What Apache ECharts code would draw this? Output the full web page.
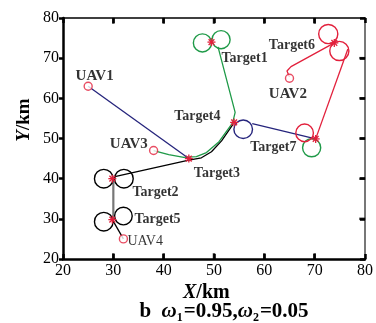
<!DOCTYPE html>
<html>
<head>
<meta charset="utf-8">
<script src="https://cdn.jsdelivr.net/npm/echarts@6/dist/echarts.min.js"></script>
<style>html,body{margin:0;padding:0;background:#fff;}#c{width:376px;height:323px;}</style>
</head>
<body>
<div id="c"></div>
<script>
// ---- data (km) ----
const xTicks = [20, 30, 40, 50, 60, 70, 80];
const yTicks = [20, 30, 40, 50, 60, 70, 80];

const uavStarts = [[25, 63], [65, 65], [38, 47], [32, 25]];
const targets = [[49.5, 74], [29.8, 40], [45, 45], [54, 54], [29.8, 29.8], [73.9, 73.8], [70.2, 49.9]];

// navy path (UAV1)
const navyPath1 = [[25, 63], [45, 45]];
const navyPath3 = [[57.6, 53.7], [70.2, 49.9]];
// green path (UAV3)
const greenPath = [[38, 47], [41, 46], [44, 45.3], [46.5, 45.5], [48.5, 46.5], [51, 49.2], [53.7, 53.9], [54.2, 56.5], [50.8, 72.8]];
// red path (UAV2)
const redPath1 = [[65, 65.3], [64.5, 66.8], [65.3, 67.9], [73.9, 73.8]];
const redPath2 = [[76.6, 72.3], [70.2, 49.9]];
// black path (UAV4)
const blackPath1 = [[32, 25], [29.8, 29.8]];
const greyPath = [[30, 30], [30, 40]];
const blackPath2 = [[30.3, 40.5], [45, 44.6], [47.5, 45.2], [49.5, 46.7], [51.5, 49.4], [53.8, 53.6]];

// turning loops [cx, cy, r]
const navyLoops = [[55.8, 52.3, 1.85]];
const greenLoops = [[47.7, 73.8, 1.8], [51.4, 74.6, 1.8], [69.4, 47.7, 1.8]];
const redLoops = [[72.7, 76, 1.9], [74.9, 71.8, 1.9], [68, 51.4, 1.75]];
const blackLoops = [[28.1, 40, 1.85], [32.1, 40, 1.85], [28.1, 29.3, 1.85], [32, 30.7, 1.75]];

// labels [x, y(left edge, middle), text]
const uavLabels = [[22.4, 65.6, 'UAV1'], [29.2, 48.7, 'UAV3'], [60.8, 61.1, 'UAV2']];
const uav4Label = [[32.7, 24.5, 'UAV4']];
const targetLabels = [[51.4, 70, 'Target1'], [60.8, 73.3, 'Target6'], [42, 55.4, 'Target4'], [57.1, 47.7, 'Target7'], [45.9, 41.4, 'Target3'], [33.7, 36.7, 'Target2'], [34.1, 29.8, 'Target5']];

// ---- chart ----
const NAVY = '#25247c', GREEN = '#1f9a48', RED = '#e2203c', BLACK = '#000', GREY = '#777';
const SERIF = '"Liberation Serif","Times New Roman",serif';

function lineSeries(data, color, width) {
  return { type: 'line', data: data, xAxisIndex: 0, yAxisIndex: 0, showSymbol: false, symbol: 'none', smooth: false,
    lineStyle: { color: color, width: width || 1.3 }, silent: true, z: 2 };
}
function loopSeries(data, color) {
  return { type: 'custom', data: data, xAxisIndex: 0, yAxisIndex: 0, silent: true, z: 3,
    renderItem: function (params, api) {
      const c = api.coord([api.value(0), api.value(1)]);
      const s = api.size([api.value(2), 0]);
      return { type: 'circle', shape: { cx: c[0], cy: c[1], r: s[0] }, style: { fill: 'none', stroke: color, lineWidth: 1.4 } };
    } };
}
function labelSeries(data, size, weight) {
  return { type: 'scatter', data: data, symbolSize: 1, itemStyle: { color: 'transparent' }, silent: true, z: 6,
    label: { show: true, position: 'right', distance: 0, formatter: p => p.value[2], color: '#000',
      fontFamily: SERIF, fontSize: size, fontWeight: weight } };
}

const chart = echarts.init(document.getElementById('c'), null, { renderer: 'canvas' });
function ax(pos, lineColor, lineWidth, labels, inside, len) {
  return { type: 'value', min: 20, max: 80, interval: 10, position: pos,
    splitLine: { show: false },
    axisLine: { show: true, onZero: false, lineStyle: { color: lineColor, width: lineWidth } },
    axisTick: { show: true, inside: inside, length: len, lineStyle: { color: '#000', width: 2.5 } },
    axisLabel: labels ? { show: true, margin: 4, color: '#000', fontFamily: SERIF, fontSize: 16,
      formatter: v => xTicks.includes(v) ? String(v) : '' } : { show: false } };
}
// tick marks drawn as a markLine-free custom overlay through the axes' scales
const tickX = xTicks.slice(1, -1);
const tickY = yTicks.slice(1, -1);
chart.setOption({
  animation: false,
  backgroundColor: '#fff',
  grid: { left: 63, top: 18, width: 306, height: 241 },
  xAxis: [ax('bottom', '#000', 2.5, true, true, 5), ax('top', '#000', 1.5, false, true, 5)],
  yAxis: [ax('left', '#000', 2.5, true, false, 4), ax('right', GREY, 2, false, true, 5)],
  series: [
    lineSeries(blackPath2, BLACK),
    lineSeries(greenPath, GREEN),
    lineSeries(navyPath1, NAVY),
    lineSeries(navyPath3, NAVY),
    lineSeries(redPath1, RED),
    lineSeries(redPath2, RED),
    lineSeries(blackPath1, BLACK),
    lineSeries(greyPath, GREY, 2.2),
    loopSeries(navyLoops, NAVY),
    loopSeries(greenLoops, GREEN),
    loopSeries(redLoops, RED),
    loopSeries(blackLoops, BLACK),
    { type: 'scatter', data: tickX.map(v => [v, 79.3]), symbol: 'rect', symbolSize: [2.5, 6], silent: true, z: 8,
      itemStyle: { color: '#000' } },
    { type: 'scatter', data: tickX.map(v => [v, 20.7]), symbol: 'rect', symbolSize: [2.5, 6], silent: true, z: 8,
      itemStyle: { color: '#000' } },
    { type: 'scatter', data: tickY.map(v => [79.45, v]), symbol: 'rect', symbolSize: [6, 2.5], silent: true, z: 8,
      itemStyle: { color: '#000' } },
    { type: 'custom', data: targets, silent: true, z: 5,
      renderItem: function (params, api) {
        const c = api.coord([api.value(0), api.value(1)]);
        const r = 4, d = 2.9;
        const st = { stroke: RED, lineWidth: 1.3 };
        return { type: 'group', children: [
          { type: 'line', shape: { x1: c[0] - r, y1: c[1], x2: c[0] + r, y2: c[1] }, style: st },
          { type: 'line', shape: { x1: c[0], y1: c[1] - r, x2: c[0], y2: c[1] + r }, style: st },
          { type: 'line', shape: { x1: c[0] - d, y1: c[1] - d, x2: c[0] + d, y2: c[1] + d }, style: st },
          { type: 'line', shape: { x1: c[0] - d, y1: c[1] + d, x2: c[0] + d, y2: c[1] - d }, style: st }
        ] };
      } },
    { type: 'scatter', data: uavStarts, symbol: 'circle', symbolSize: 8, silent: true, z: 5,
      itemStyle: { color: '#fff', borderColor: RED, borderWidth: 1.4 } },
    labelSeries(uavLabels, 15, 'bold'),
    labelSeries(uav4Label, 14, 'normal'),
    labelSeries(targetLabels, 14, 'bold')
  ],
  graphic: [
    { type: 'text', left: 207 - 24, top: 283, style: {
        rich: { i: { fontFamily: SERIF, fontSize: 20, fontWeight: 'bold', fontStyle: 'italic', fill: '#000' },
                n: { fontFamily: SERIF, fontSize: 20, fontWeight: 'bold', fill: '#000' } },
        text: '{i|X}{n|/km}' } },
    { type: 'text', x: 24, y: 120, rotation: Math.PI / 2, style: {
        text: '{i|Y}{n|/km}', align: 'center', verticalAlign: 'middle',
        rich: { i: { fontFamily: SERIF, fontSize: 19, fontWeight: 'bold', fontStyle: 'italic', fill: '#000' },
                n: { fontFamily: SERIF, fontSize: 19, fontWeight: 'bold', fill: '#000' } } } },
    { type: 'text', x: 224, y: 312, style: {
        text: '{n|b  }{w|ω}{s|1}{n|=0.95,}{w|ω}{s|2}{n|=0.05}', align: 'center', verticalAlign: 'middle',
        rich: {
          n: { fontFamily: SERIF, fontSize: 21, fontWeight: 'bold', fill: '#000', lineHeight: 24, verticalAlign: 'middle' },
          w: { fontFamily: SERIF, fontSize: 21, fontWeight: 'bold', fontStyle: 'italic', fill: '#000', lineHeight: 24, verticalAlign: 'middle' },
          s: { fontFamily: SERIF, fontSize: 12, fontWeight: 'bold', fill: '#000', lineHeight: 24, verticalAlign: 'bottom', padding: [0, 1, 0, 0] }
        } } }
  ]
});
</script>
</body>
</html>
